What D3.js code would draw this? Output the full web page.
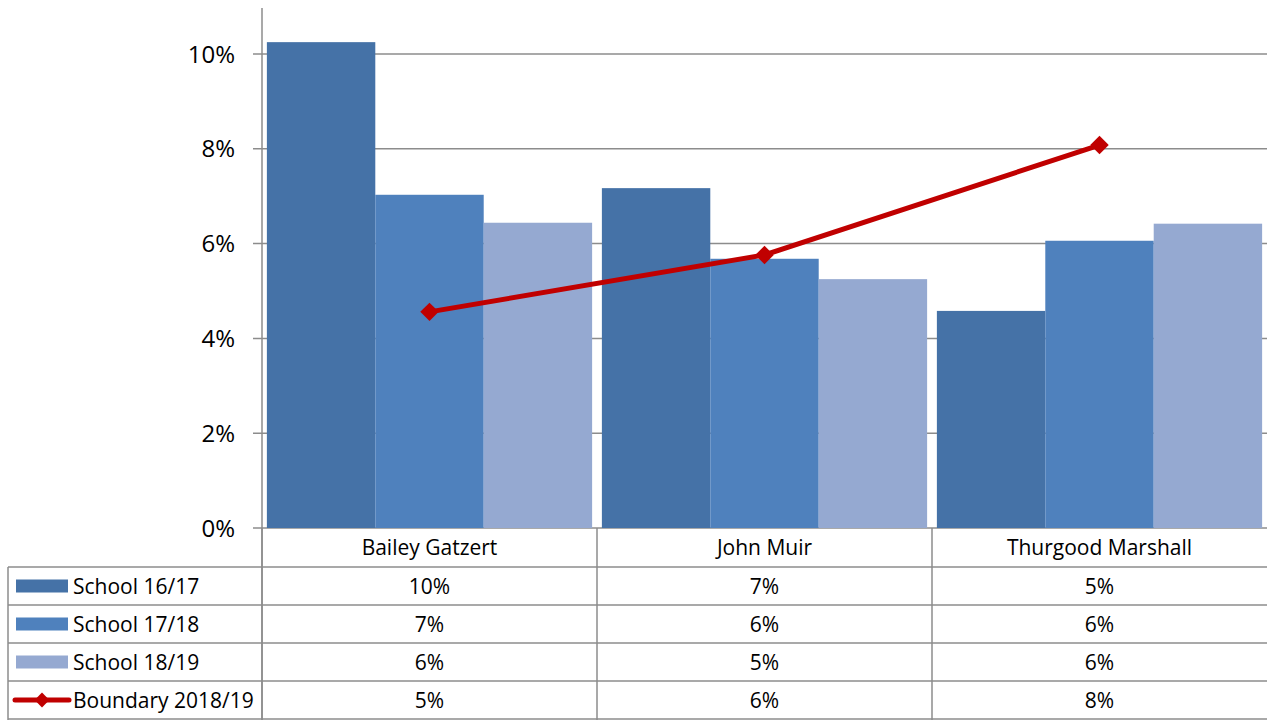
<!DOCTYPE html>
<html><head><meta charset="utf-8">
<script src="https://cdn.jsdelivr.net/npm/d3@7"></script>
<style>
html,body{margin:0;padding:0;background:#fff;}
svg{display:block;font-family:"Open Sans", sans-serif;}
</style></head>
<body>
<svg id="chart" width="1267" height="720"></svg>
<script>
const categories = ["Bailey Gatzert", "John Muir", "Thurgood Marshall"];
const seriesNames = ["School 16/17", "School 17/18", "School 18/19"];
const school1617 = [0.1025, 0.0717, 0.0458];
const school1718 = [0.0703, 0.0568, 0.0606];
const school1819 = [0.0644, 0.0525, 0.0642];
const lineName = "Boundary 2018/19";
const boundary = [0.0456, 0.0576, 0.0808];
const yTicks = [0, 0.02, 0.04, 0.06, 0.08, 0.10];

const barSeries = [school1617, school1718, school1819];
const colors = ["#4572A7", "#4F81BD", "#95A9D1"];
const lineColor = "#C00000";
const gridColor = "#8C8C8C";

const svg = d3.select("#chart");
const x0 = 262, x1 = 1267, yBase = 528, yTop = 6.6;
const x = d3.scaleBand().domain(categories).range([x0, x1]).paddingInner(0).paddingOuter(0);
const xi = d3.scaleBand().domain(d3.range(3)).range([0, x.bandwidth()]).paddingInner(0).paddingOuter(0.045);
const y = d3.scaleLinear().domain([0, 0.11]).range([yBase, yTop]);
const pct = d3.format(".0%");

svg.append("g").selectAll("line").data(yTicks).join("line")
  .attr("x1", x0 - 9).attr("x2", x1).attr("y1", d => y(d)).attr("y2", d => y(d))
  .attr("stroke", gridColor).attr("stroke-width", 1.5);

svg.append("g").selectAll("text").data(yTicks).join("text")
  .attr("x", 235).attr("y", d => y(d)).attr("dy", "0.36em")
  .attr("text-anchor", "end").attr("font-size", 24).attr("fill", "#000")
  .text(d => pct(d));

const groups = svg.append("g").selectAll("g").data(barSeries).join("g")
  .attr("fill", (d, i) => colors[i]);
groups.each(function(vals, si) {
  d3.select(this).selectAll("rect").data(vals).join("rect")
    .attr("x", (v, ci) => x(categories[ci]) + xi(si))
    .attr("width", xi.bandwidth())
    .attr("y", v => y(v))
    .attr("height", v => yBase - y(v));
});

svg.append("line").attr("x1", x0).attr("x2", x0).attr("y1", 8).attr("y2", 720)
  .attr("stroke", gridColor).attr("stroke-width", 1.5);

const line = d3.line().x((d, i) => x(categories[i]) + x.bandwidth() / 2).y(d => y(d));
svg.append("path").datum(boundary).attr("d", line)
  .attr("fill", "none").attr("stroke", lineColor).attr("stroke-width", 5);
svg.append("g").selectAll("path").data(boundary).join("path")
  .attr("transform", (d, i) => `translate(${x(categories[i]) + x.bandwidth() / 2},${y(d)}) rotate(45)`)
  .attr("d", d3.symbol().type(d3.symbolSquare).size(170))
  .attr("fill", lineColor);

const rowTop = 528, rowH = [39, 38, 38, 38, 38];
const rowY = [rowTop];
rowH.forEach((h, i) => rowY.push(rowY[i] + h));
const tbl = svg.append("g");
tbl.selectAll("line.h").data(rowY.slice(1)).join("line").attr("class", "h")
  .attr("x1", 8).attr("x2", x1).attr("y1", d => d).attr("y2", d => d)
  .attr("stroke", gridColor).attr("stroke-width", 1.5);
const vx = categories.map(c => x(c));
tbl.selectAll("line.v").data(vx).join("line").attr("class", "v")
  .attr("x1", d => d).attr("x2", d => d).attr("y1", rowTop).attr("y2", 720)
  .attr("stroke", gridColor).attr("stroke-width", 1.5);
tbl.append("line").attr("x1", 8).attr("x2", 8).attr("y1", rowY[1]).attr("y2", 720)
  .attr("stroke", gridColor).attr("stroke-width", 1.5);

const fs = 21;
tbl.selectAll("text.cat").data(categories).join("text").attr("class", "cat")
  .attr("x", d => x(d) + x.bandwidth() / 2).attr("y", (rowY[0] + rowY[1]) / 2).attr("dy", "0.36em")
  .attr("text-anchor", "middle").attr("font-size", fs).text(d => d);

const allSeries = barSeries.concat([boundary]);
const allNames = seriesNames.concat([lineName]);
allSeries.forEach((vals, ri) => {
  const cy = (rowY[ri + 1] + rowY[ri + 2]) / 2;
  tbl.append("g").selectAll("text").data(vals).join("text")
    .attr("x", (v, ci) => x(categories[ci]) + x.bandwidth() / 2).attr("y", cy).attr("dy", "0.36em")
    .attr("text-anchor", "middle").attr("font-size", fs).text(v => pct(v));
  tbl.append("text").attr("x", 73).attr("y", cy).attr("dy", "0.36em")
    .attr("font-size", fs).text(allNames[ri]);
  if (ri < 3) {
    tbl.append("rect").attr("x", 16).attr("y", cy - 6.5).attr("width", 52).attr("height", 13)
      .attr("fill", colors[ri]);
  } else {
    tbl.append("line").attr("x1", 15).attr("x2", 69).attr("y1", cy).attr("y2", cy)
      .attr("stroke", lineColor).attr("stroke-width", 5).attr("stroke-linecap", "round");
    tbl.append("path").attr("transform", `translate(42,${cy}) rotate(45)`)
      .attr("d", d3.symbol().type(d3.symbolSquare).size(110)).attr("fill", lineColor);
  }
});
</script>
</body></html>
